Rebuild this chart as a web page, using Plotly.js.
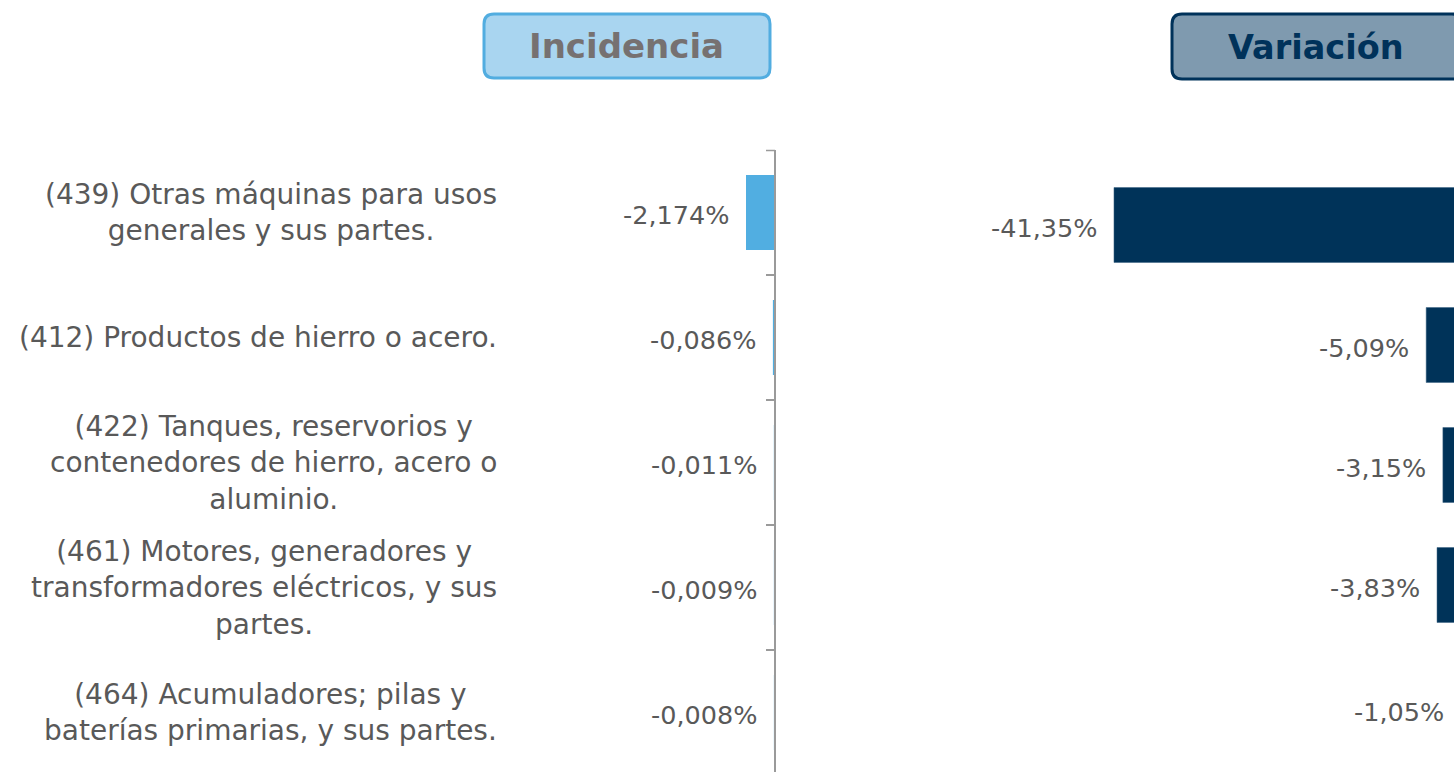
<!DOCTYPE html>
<html>
<head>
<meta charset="utf-8">
<script src="https://cdn.plot.ly/plotly-3.0.1.min.js"></script>
<style>
html,body{margin:0;padding:0;overflow:hidden;background:#fff;width:1454px;height:772px;}
#chart{width:1475px;height:780px;}
</style>
</head>
<body>
<div id="chart"></div>
<script>
// ---- data ----
const categories = [
  "(439) Otras máquinas para usos<br>generales y sus partes.",
  "(412) Productos de hierro o acero.",
  "(422) Tanques, reservorios y<br>contenedores de hierro, acero o<br>aluminio.",
  "(461) Motores, generadores y<br>transformadores eléctricos, y sus<br>partes.",
  "(464) Acumuladores; pilas y<br>baterías primarias, y sus partes."
];
const catKeys = ["c439", "c412", "c422", "c461", "c464"];
const incidencia = [-2.174, -0.086, -0.011, -0.009, -0.008];
const variacion = [-41.35, -5.09, -3.15, -3.83, -1.05];
const panelTitles = ["Incidencia", "Variación"];

// ---- layout helpers ----
const W = 1475, H = 780;
const X = v => v / W;
const Y = v => 1 - v / H;
function rr(x0, y0, x1, y1, r) {
  const f = v => v.toFixed(5);
  const a = x => f(X(x)), b = y => f(Y(y));
  return `M${a(x0+r)},${b(y0)} L${a(x1-r)},${b(y0)} Q${a(x1)},${b(y0)} ${a(x1)},${b(y0+r)} ` +
         `L${a(x1)},${b(y1-r)} Q${a(x1)},${b(y1)} ${a(x1-r)},${b(y1)} ` +
         `L${a(x0+r)},${b(y1)} Q${a(x0)},${b(y1)} ${a(x0)},${b(y1-r)} ` +
         `L${a(x0)},${b(y0+r)} Q${a(x0)},${b(y0)} ${a(x0+r)},${b(y0)} Z`;
}
const fmt = (v, d) => v.toFixed(d).replace('.', ',') + '%';

const FONT = "DejaVu Sans";
const GRAY = "#595959";
const AXC = "#9A9A9A";

const traces = [
  {
    type: 'bar', orientation: 'h', x: incidencia, y: catKeys,
    xaxis: 'x', yaxis: 'y', width: 0.6,
    marker: {color: '#51AEE1'}, hoverinfo: 'skip', showlegend: false
  },
  {
    type: 'bar', orientation: 'h', x: variacion, y: catKeys,
    xaxis: 'x2', yaxis: 'y2', width: 0.625,
    marker: {color: '#003359', line: {color: '#3d6282', width: 0.5}}, hoverinfo: 'skip', showlegend: false
  }
];

const annotations = [];
catKeys.forEach((k, i) => {
  annotations.push({
    xref: 'paper', yref: 'y', x: X(499), y: k, xanchor: 'right', yanchor: 'middle',
    text: categories[i], align: 'center', showarrow: false,
    font: {family: FONT, size: 28, color: GRAY}
  });
  annotations.push({
    xref: 'x', yref: 'y', x: incidencia[i], y: k, xanchor: 'right', yanchor: 'middle',
    xshift: -15, yshift: -2, text: fmt(incidencia[i], 3), showarrow: false,
    font: {family: FONT, size: 25.5, color: GRAY}
  });
  annotations.push({
    xref: 'x2', yref: 'y2', x: variacion[i], y: k, xanchor: 'right', yanchor: 'middle',
    xshift: -15, yshift: (i === 4 ? -7 : -3), text: fmt(variacion[i], 2), showarrow: false,
    font: {family: FONT, size: 25.5, color: GRAY}
  });
});
annotations.push({
  xref: 'paper', yref: 'paper', x: X(626), y: Y(46), xanchor: 'center', yanchor: 'middle',
  text: '<b>' + panelTitles[0] + '</b>', showarrow: false,
  font: {family: FONT, size: 34, color: '#767171'}
});
annotations.push({
  xref: 'paper', yref: 'paper', x: X(1316), y: Y(47), xanchor: 'center', yanchor: 'middle',
  text: '<b>' + panelTitles[1] + '</b>', showarrow: false,
  font: {family: FONT, size: 33.5, color: '#00325A'}
});

const shapes = [
  {type: 'path', xref: 'paper', yref: 'paper', path: rr(484, 14, 770, 78, 10),
   fillcolor: '#A9D5F0', line: {color: '#52ADE0', width: 3}, layer: 'below'},
  {type: 'path', xref: 'paper', yref: 'paper', path: rr(1172, 14, 1462, 79, 10),
   fillcolor: '#7F9AAF', line: {color: '#00325A', width: 3}, layer: 'below'},
  // top boundary tick of the category axis
  {type: 'line', xref: 'paper', yref: 'paper', x0: X(766), x1: X(775), y0: Y(150.5), y1: Y(150.5),
   line: {color: AXC, width: 1.5}}
];

const layout = {
  width: W, height: H,
  margin: {l: 0, r: 0, t: 0, b: 0, pad: 0},
  paper_bgcolor: '#fff', plot_bgcolor: 'rgba(0,0,0,0)',
  showlegend: false,
  xaxis: {domain: [X(520), X(774)], range: [-254/12.88, 0], visible: false, fixedrange: true},
  yaxis: {domain: [Y(775), Y(150)], anchor: 'x', side: 'right', type: 'category',
          categoryorder: 'array', categoryarray: catKeys, autorange: 'reversed',
          showticklabels: false, showline: true, linecolor: AXC, linewidth: 1.5,
          ticks: 'inside', ticklen: 8, tickcolor: AXC, tickwidth: 1.5,
          tickson: 'boundaries', showgrid: false, zeroline: false, fixedrange: true},
  xaxis2: {domain: [X(900), X(1470)], range: [-570/8.61, 0], anchor: 'y2', visible: false, fixedrange: true},
  yaxis2: {domain: [Y(765), Y(165)], anchor: 'x2', type: 'category',
           categoryorder: 'array', categoryarray: catKeys, autorange: 'reversed',
           visible: false, fixedrange: true},
  annotations: annotations,
  shapes: shapes
};

Plotly.newPlot('chart', traces, layout, {displayModeBar: false, staticPlot: true});
</script>
</body>
</html>
